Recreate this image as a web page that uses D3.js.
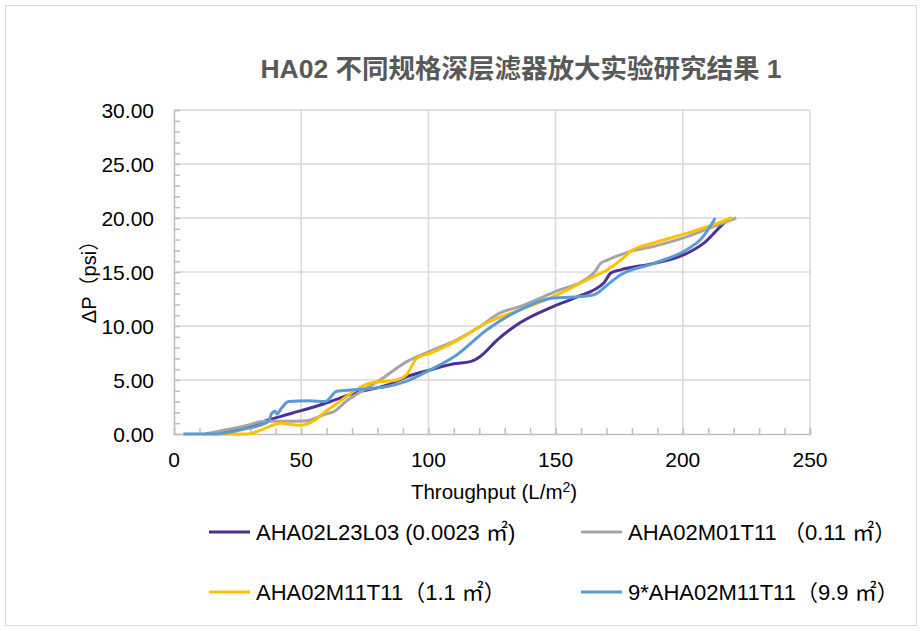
<!doctype html>
<html>
<head>
<meta charset="utf-8">
<style>
body{
  margin:0;
  background-color:#ffffff;
}
text{
  font-family:"Liberation Sans", Arial, "Noto Sans CJK SC", sans-serif;
}
.tick-lbl{
  font-size:21px;
  fill:#000000;
}
.legend-txt{
  font-size:22px;
  fill:#000000;
}
</style>
<script src="https://d3js.org/d3.v7.min.js"></script>
</head>
<body>
<svg width="922" height="631"></svg>
<script>
// series labels
var seriesNames = ["AHA02L23L03 (0.0023 ㎡)", "AHA02M01T11 （0.11 ㎡）", "AHA02M11T11（1.1 ㎡）", "9*AHA02M11T11（9.9 ㎡）"];
var seriesColors = ["#4e2f94", "#a5a5a5", "#ffc000", "#5b9bd5"];

// values: throughput (L/m2) and dP (psi)
var xL23 = [16, 27, 37, 46, 59, 71, 84, 91.5, 101, 110, 116.5, 120.5, 127, 136, 149, 158.5, 169, 171.7, 175.6, 188.7, 200.5, 208.4, 217.6, 219];
var yL23 = [0, 0.55, 1.3, 1.9, 2.8, 3.8, 4.55, 5.3, 5.95, 6.5, 6.7, 7.2, 8.7, 10.3, 11.8, 12.7, 14.0, 14.9, 15.2, 15.8, 16.6, 17.7, 19.8, 20.0];

var xM01 = [12, 27, 36, 44, 52, 59, 63, 68, 72, 81, 91.5, 101, 111, 120.5, 128, 136, 149, 165, 167.7, 170.3, 178, 189, 202, 212, 221];
var yM01 = [0, 0.7, 1.17, 1.17, 1.23, 1.8, 2.1, 3.1, 3.7, 5.0, 6.7, 7.7, 8.7, 10.0, 11.2, 11.8, 13.1, 14.9, 15.8, 16.1, 16.8, 17.4, 18.3, 19.2, 20.0];

var xM11 = [16, 29, 34.5, 42, 49, 55.5, 58, 64, 71, 77, 87.6, 91.5, 95.4, 101, 111, 123, 136, 149, 162.5, 170.3, 175.6, 179.5, 188.7, 201.8, 212.3, 219.5];
var yM11 = [0, 0, 0.4, 1.0, 0.8, 1.3, 1.8, 2.8, 4.0, 4.7, 5.0, 5.5, 7.0, 7.5, 8.6, 10.3, 11.5, 12.7, 14.3, 15.2, 16.1, 16.9, 17.7, 18.6, 19.4, 20.0];

var x9M11 = [3.7, 16, 26.6, 37.1, 38.5, 39.8, 40.4, 42.3, 45, 53, 59.4, 64, 70.6, 83.7, 91.5, 100.8, 111, 123, 136, 149, 158.5, 165, 170.3, 175.6, 188.7, 201.8, 207, 212.8];
var y9M11 = [0, 0, 0.4, 1.17, 1.94, 2.1, 1.85, 2.4, 3.0, 3.08, 3.0, 3.95, 4.1, 4.4, 4.9, 5.95, 7.3, 9.66, 11.5, 12.6, 12.7, 12.9, 13.8, 14.75, 15.8, 17.1, 18.0, 20.0];

var xTicks = [0, 50, 100, 150, 200, 250];
var yTicks = [0, 5, 10, 15, 20, 25, 30];

var series = [d3.zip(xL23, yL23), d3.zip(xM01, yM01), d3.zip(xM11, yM11), d3.zip(x9M11, y9M11)];

var svg = d3.select("svg");

svg.append("rect")
    .attr("x", 5.5).attr("y", 5.5)
    .attr("width", 911).attr("height", 620)
    .style("fill", "#ffffff")
    .style("stroke", "#d9d9d9");

var x = d3.scaleLinear().domain([0, 250]).range([174, 810]);
var y = d3.scaleLinear().domain([0, 30]).range([434, 110]);

// gridlines
svg.append("g").selectAll("line")
    .data(yTicks.slice(1))
    .enter().append("line")
    .attr("x1", x(0)).attr("x2", x(250))
    .attr("y1", function(d) { return y(d); })
    .attr("y2", function(d) { return y(d); })
    .style("stroke", "#d9d9d9").style("stroke-width", 1.5);

svg.append("g").selectAll("line")
    .data(xTicks.slice(1))
    .enter().append("line")
    .attr("y1", y(0)).attr("y2", y(30))
    .attr("x1", function(d) { return x(d); })
    .attr("x2", function(d) { return x(d); })
    .style("stroke", "#d9d9d9").style("stroke-width", 1.5);

// axes with inside minor ticks
var yAxis = svg.append("g")
    .attr("transform", "translate(" + x(0) + ",0)")
    .call(d3.axisRight(y).ticks(30).tickSize(6).tickFormat(""));
var xAxis = svg.append("g")
    .attr("transform", "translate(0," + y(0) + ")")
    .call(d3.axisTop(x).ticks(25).tickSize(6).tickFormat(""));
[yAxis, xAxis].forEach(function(a) {
  a.selectAll("path, line").style("stroke", "#bfbfbf").style("stroke-width", 1.5);
});

svg.append("g").selectAll("text")
    .data(yTicks)
    .enter().append("text")
    .attr("class", "tick-lbl")
    .attr("x", 154)
    .attr("y", function(d) { return y(d); })
    .attr("dy", "0.36em")
    .attr("text-anchor", "end")
    .text(function(d) { return d3.format(".2f")(d); });

svg.append("g").selectAll("text")
    .data(xTicks)
    .enter().append("text")
    .attr("class", "tick-lbl")
    .attr("x", function(d) { return x(d); })
    .attr("y", 467)
    .attr("text-anchor", "middle")
    .text(function(d) { return d; });

// titles
svg.append("text")
    .attr("x", 521).attr("y", 78)
    .attr("text-anchor", "middle")
    .style("font-size", "26.5px")
    .style("font-weight", "bold")
    .style("fill", "#595959")
    .text("HA02 不同规格深层滤器放大实验研究结果 1");

svg.append("text")
    .attr("transform", "translate(96,277) rotate(-90)")
    .attr("text-anchor", "middle")
    .style("font-size", "20px")
    .text("ΔP（psi）");

var xt = svg.append("text")
    .attr("x", 494).attr("y", 499)
    .attr("text-anchor", "middle")
    .style("font-size", "20.5px");
xt.append("tspan").text("Throughput (L/m");
xt.append("tspan").attr("dy", -7).style("font-size", "14px").text("2");
xt.append("tspan").attr("dy", 7).text(")");

// lines
var line = d3.line()
    .x(function(d) { return x(d[0]); })
    .y(function(d) { return y(d[1]); })
    .curve(d3.curveMonotoneX);

svg.append("g").selectAll("path")
    .data(series)
    .enter().append("path")
    .attr("d", line)
    .style("fill", "none")
    .style("stroke", function(d, i) { return seriesColors[i]; })
    .style("stroke-width", 3)
    .style("stroke-linejoin", "round");

// legend, two per row
var lg = svg.append("g").selectAll("g")
    .data(seriesNames)
    .enter().append("g")
    .attr("transform", function(d, i) {
      return "translate(" + (i % 2 ? 581 : 209) + "," + (i < 2 ? 532 : 592) + ")";
    });
lg.append("line")
    .attr("x1", 0).attr("x2", 41)
    .style("stroke", function(d, i) { return seriesColors[i]; })
    .style("stroke-width", 3);
lg.append("text")
    .attr("class", "legend-txt")
    .attr("x", 47).attr("dy", "0.36em")
    .text(function(d) { return d; });
</script>
</body>
</html>
